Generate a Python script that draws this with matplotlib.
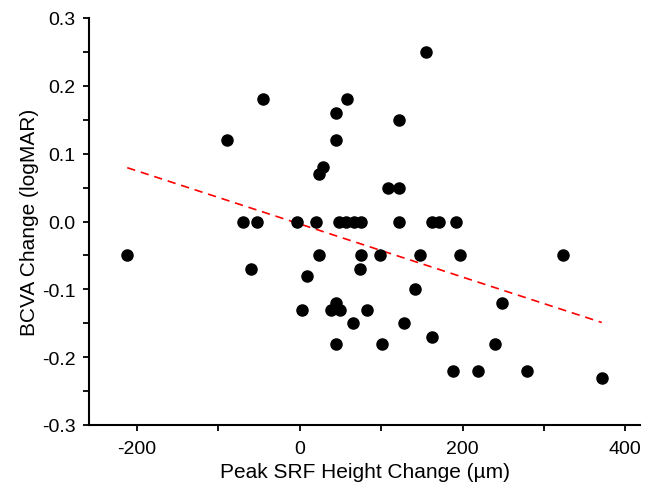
import numpy as np
import matplotlib
matplotlib.use("Agg")
import matplotlib.pyplot as plt
from matplotlib.ticker import MultipleLocator, FormatStrFormatter

plt.rcParams['font.family'] = ['Liberation Sans', 'DejaVu Sans']
plt.rcParams['axes.unicode_minus'] = False

# Peak SRF height change (um) vs BCVA change (logMAR)
srf_change = [-212, -90, -45, 44, 44, 58, 28, 23, 155, 122, 108, 122,
              -70, -52, -4, 20, 48, 57, 66, 75, 122, 163, 171, 192,
              24, 75, 99, 148, 197, 323,
              -60, 74, 9, 141,
              3, 38, 44, 50, 82, 248,
              65, 128, 163,
              44, 101, 240,
              188, 219, 279, 371]
bcva_change = [-0.05, 0.12, 0.18, 0.16, 0.12, 0.18, 0.08, 0.07, 0.25, 0.15, 0.05, 0.05,
               0.0, 0.0, 0.0, 0.0, 0.0, 0.0, 0.0, 0.0, 0.0, 0.0, 0.0, 0.0,
               -0.05, -0.05, -0.05, -0.05, -0.05, -0.05,
               -0.07, -0.07, -0.08, -0.10,
               -0.13, -0.13, -0.12, -0.13, -0.13, -0.12,
               -0.15, -0.15, -0.17,
               -0.18, -0.18, -0.18,
               -0.22, -0.22, -0.22, -0.23]

x = np.array(srf_change, dtype=float)
y = np.array(bcva_change, dtype=float)

fig = plt.figure(figsize=(6.52, 4.89), dpi=100)
ax = fig.add_axes([89 / 652, 1 - 426 / 489, (640 - 89) / 652, (426 - 19) / 489])

ax.plot(x, y, 'o', color='black', markersize=8, zorder=3)

# linear fit across the data range
slope, intercept = np.polyfit(x, y, 1)
xf = np.array([x.min(), x.max()])
ax.plot(xf, slope * xf + intercept, color='red', linestyle=(0, (5, 3.5)),
        linewidth=1.2, zorder=2)

ax.set_xlim(-259, 418)
ax.set_ylim(-0.3, 0.3)
ax.xaxis.set_major_locator(MultipleLocator(200))
ax.xaxis.set_minor_locator(MultipleLocator(100))
ax.yaxis.set_major_locator(MultipleLocator(0.1))
ax.yaxis.set_minor_locator(MultipleLocator(0.05))
ax.yaxis.set_major_formatter(FormatStrFormatter('%.1f'))

for side in ['top', 'right']:
    ax.spines[side].set_visible(False)
for side in ['left', 'bottom']:
    ax.spines[side].set_linewidth(1.5)

ax.tick_params(which='both', direction='out', width=1.3, length=4.5, labelsize=14)
ax.tick_params(axis='x', which='major', pad=6.5)
ax.tick_params(axis='y', which='major', pad=5)

ax.set_xlabel('Peak SRF Height Change (µm)', fontsize=15, labelpad=3.3)
ax.set_ylabel('BCVA Change (logMAR)', fontsize=15, labelpad=2)

fig.savefig('out.png', dpi=100)
